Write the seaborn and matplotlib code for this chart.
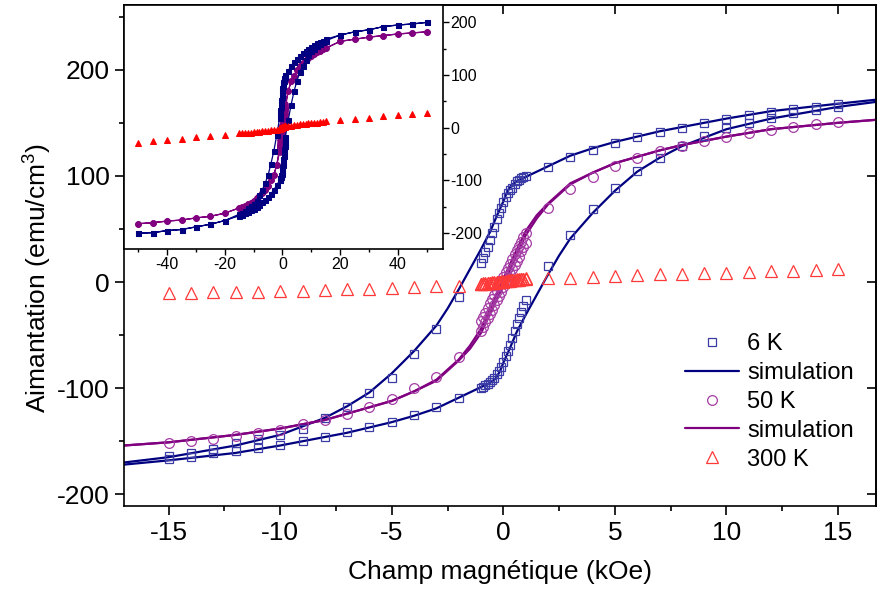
import matplotlib
matplotlib.use("Agg")
import matplotlib.pyplot as plt
import seaborn as sns
from matplotlib.lines import Line2D
from matplotlib.ticker import MultipleLocator, NullLocator

# --- data: field in kOe, magnetisation in emu/cm3 ---
# field values of the measured points, descending branch (+15 -> -15)
h_down = [15, 14, 13, 12, 11, 10, 9, 8, 7, 6, 5, 4, 3, 2,
          1.0, 0.9, 0.8, 0.7, 0.6, 0.5, 0.4, 0.3, 0.2, 0.1, 0.0,
          -0.1, -0.2, -0.3, -0.4, -0.5, -0.6, -0.7, -0.8, -0.9, -1.0,
          -2, -3, -4, -5, -6, -7, -8, -9, -10, -11, -12, -13, -14, -15]
# ascending branch (-15 -> +15)
h_up = [-15, -14, -13, -12, -11, -10, -9, -8, -7, -6, -5, -4, -3, -2,
        -1.0, -0.9, -0.8, -0.7, -0.6, -0.5, -0.4, -0.3, -0.2, -0.1, 0.0,
        0.1, 0.2, 0.3, 0.4, 0.5, 0.6, 0.7, 0.8, 0.9, 1.0,
        2, 3, 4, 5, 6, 7, 8, 9, 10, 11, 12, 13, 14, 15]

m6_down = [168, 165, 163, 160, 157, 154, 150, 145, 141, 137, 131, 124, 118, 108,
           100, 99, 98, 96, 95, 92, 89, 87, 84, 80, 75, 70, 65, 59, 52, 46, 40, 33, 28, 23, 18,
           -14, -44, -68, -90, -105, -118, -128, -138, -144, -148, -152, -157, -161, -164]
m6_up = [-167, -165, -161, -159, -156, -154, -150, -146, -141, -137, -132, -125, -118, -109,
         -100, -99, -97, -96, -94, -92, -90, -87, -84, -80, -75, -70, -65, -59, -53, -46, -40, -34, -28, -23, -17,
         15, 44, 69, 89, 105, 117, 128, 138, 145, 150, 155, 159, 162, 165]

m50_down = [151, 149, 146, 143, 140, 137, 133, 128, 123, 117, 109, 99, 88, 70,
            46, 42, 38, 34, 30, 26, 22, 17, 13, 9, 5, 1, -3, -8, -12, -16, -20, -24, -29, -33, -37,
            -71, -89, -100, -110, -118, -124, -130, -134, -139, -142, -145, -148, -150, -152]
m50_up = [-152, -150, -148, -145, -142, -139, -134, -130, -124, -118, -110, -100, -89, -71,
          -46, -42, -38, -34, -30, -26, -22, -17, -13, -9, -5, -1, 3, 8, 12, 16, 20, 24, 29, 33, 37,
          70, 88, 99, 109, 117, 123, 128, 133, 137, 140, 143, 146, 149, 151]

m300_down = [12, 11.3, 10.7, 10, 9.4, 8.8, 8.2, 7.5, 7.2, 6.6, 6, 5, 4, 3.5,
             3.5, 3.2, 3, 2.7, 2.5, 2.2, 2, 1.7, 1.5, 1.2, 1, 0.7, 0.5, 0.2, 0, -0.3, -0.5, -0.8, -1, -1.3, -1.5,
             -3.5, -4.2, -5, -5.7, -6.3, -7, -7.5, -8, -8.5, -9, -9.4, -9.7, -10, -10.3]
m300_up = [-10.3, -10, -9.7, -9.4, -9, -8.5, -8, -7.5, -7, -6.3, -5.7, -5, -4.2, -3.5,
           -2, -1.7, -1.5, -1.2, -1, -0.7, -0.5, -0.2, 0, 0.3, 0.5, 0.8, 1, 1.3, 1.5, 1.8, 2, 2.3, 2.5, 2.8, 3,
           3.5, 4, 5, 6, 6.6, 7.2, 7.5, 8.2, 8.8, 9.4, 10, 10.7, 11.3, 12]

# simulated curves
h6_sim_down = [16.8, 15, 12, 10, 8, 7, 6, 5, 4, 3, 2, 1, 0.6, 0.35, 0.15, 0,
               -0.3, -0.6, -1, -1.5, -2, -2.5, -3, -4, -5, -6, -7, -8, -10, -12, -15, -17]
m6_sim_down = [172, 168, 161, 154, 146, 142, 137, 132, 126, 119, 109, 99, 95, 91, 84, 76,
               62, 47, 31, 12, -7, -25, -41, -65, -86, -104, -117, -128, -144, -154, -165, -170]
h6_sim_up = [-17, -15, -12, -10, -8, -7, -6, -5, -4, -3, -2, -1, -0.6, -0.35, -0.15, 0,
             0.3, 0.6, 1, 1.5, 2, 2.5, 3, 4, 5, 6, 7, 8, 10, 12, 15, 16.8]
m6_sim_up = [-172, -168, -161, -154, -146, -142, -137, -132, -126, -119, -109, -99, -95, -91, -84, -76,
             -62, -47, -31, -12, 7, 25, 41, 65, 86, 104, 117, 128, 144, 154, 165, 170]

h50_sim_down = [16.8, 15, 12, 10, 8, 7, 6, 5, 4, 3, 2, 1.5, 1, 0.5, 0, -0.5, -1, -1.5, -2,
                -3, -4, -5, -6, -8, -10, -12, -15, -17]
m50_sim_down = [153, 150, 144, 137, 129, 124, 118, 112, 103, 93, 74, 63, 48, 26, 3, -21, -44, -60, -73,
                -92, -103, -112, -118, -130, -138, -144, -151, -154]
h50_sim_up = [-17, -15, -12, -10, -8, -6, -5, -4, -3, -2, -1.5, -1, -0.5, 0, 0.5, 1, 1.5, 2,
              3, 4, 5, 6, 7, 8, 10, 12, 15, 16.8]
m50_sim_up = [-154, -151, -144, -138, -130, -118, -112, -103, -93, -74, -63, -48, -26, -3, 21, 44, 60, 73,
              92, 103, 112, 118, 124, 129, 137, 144, 150, 153]

# extra points only shown in the inset (|H| >= 20 kOe)
h_ins_pos = [20, 25, 30, 35, 40, 45, 50]
h_ins_neg = [-50, -45, -40, -35, -30, -25, -20]
m6_ins_pos = [176, 182, 186, 192, 195, 197, 200]
m6_ins_neg = [-200, -199, -195, -193, -188, -183, -176]
m50_ins_pos = [164, 168, 172, 175, 178, 180, 182]
m50_ins_neg = [-182, -180, -177, -175, -171, -168, -162]
m300_ins_pos = [15, 17, 19, 22, 24, 26, 28]
m300_ins_neg = [-28, -26, -23, -21, -18, -15, -13]

legend_labels = ['6 K', 'simulation', '50 K', 'simulation', '300 K']

# --- colours ---
NAVY = '#000080'
PURPLE = '#800080'
RED = '#ff0000'
SQ_EDGE = '#3c3ca6'
CI_EDGE = '#a43ca4'
TR_EDGE = '#ff3838'

# --- style ---
sns.set_theme(style="ticks")
plt.rcParams['font.family'] = ['Liberation Sans', 'DejaVu Sans']
plt.rcParams['mathtext.fontset'] = 'custom'
plt.rcParams['mathtext.rm'] = 'Liberation Sans'
plt.rcParams['axes.unicode_minus'] = False
for k in ['text.color', 'axes.labelcolor', 'xtick.color', 'ytick.color', 'axes.edgecolor']:
    plt.rcParams[k] = 'black'

fig = plt.figure(figsize=(8.77, 5.90), dpi=100)
ax = fig.add_axes([124 / 877, 1 - 506 / 590, 752 / 877, 501 / 590])


def open_points(axis, x, y, marker, edge, size):
    sns.lineplot(x=x, y=y, ax=axis, sort=False, estimator=None, linestyle='none',
                 marker=marker, markersize=size, markerfacecolor='none',
                 markeredgecolor=edge, markeredgewidth=0.9)


def sim_line(axis, x, y, color):
    sns.lineplot(x=x, y=y, ax=axis, sort=False, estimator=None, color=color, lw=1.6)


# --- main panel ---
sim_line(ax, h6_sim_down, m6_sim_down, NAVY)
sim_line(ax, h6_sim_up, m6_sim_up, NAVY)
sim_line(ax, h50_sim_down, m50_sim_down, PURPLE)
sim_line(ax, h50_sim_up, m50_sim_up, PURPLE)

open_points(ax, h_down, m6_down, 's', SQ_EDGE, 6.2)
open_points(ax, h_up, m6_up, 's', SQ_EDGE, 6.2)
open_points(ax, h_down, m50_down, 'o', CI_EDGE, 7)
open_points(ax, h_up[14:35], m50_up[14:35], 'o', CI_EDGE, 7)
open_points(ax, h_down, m300_down, '^', TR_EDGE, 8.5)
open_points(ax, h_up[14:35], m300_up[14:35], '^', TR_EDGE, 8.5)

ax.set_xlim(-17, 16.7)
ax.set_ylim(-211, 261)
ax.xaxis.set_major_locator(MultipleLocator(5))
ax.xaxis.set_minor_locator(MultipleLocator(2.5))
ax.yaxis.set_major_locator(MultipleLocator(100))
ax.yaxis.set_minor_locator(MultipleLocator(50))
ax.tick_params(which='major', direction='out', length=6.5, width=1.2, labelsize=19, pad=4)
ax.tick_params(which='minor', direction='out', length=3.5, width=1.2)
for s in ax.spines.values():
    s.set_linewidth(1.2)
    s.set_visible(True)

# inward ticks on top and right
secx = ax.secondary_xaxis('top')
secx.xaxis.set_major_locator(MultipleLocator(5))
secx.xaxis.set_minor_locator(NullLocator())
secx.tick_params(direction='in', length=6.5, width=1.2, labeltop=False)
secy = ax.secondary_yaxis('right')
secy.yaxis.set_major_locator(MultipleLocator(100))
secy.yaxis.set_minor_locator(NullLocator())
secy.tick_params(direction='in', length=6.5, width=1.2, labelright=False)

ax.set_xlabel('Champ magnétique (kOe)', fontsize=19, labelpad=11)
ax.set_ylabel('Aimantation (emu/cm$^3$)', fontsize=19)
ax.yaxis.set_label_coords(-0.095, 0.455)

handles = [
    Line2D([], [], ls='none', marker='s', ms=6.2, mfc='none', mec=SQ_EDGE, mew=0.9),
    Line2D([], [], color=NAVY, lw=1.6),
    Line2D([], [], ls='none', marker='o', ms=7, mfc='none', mec=CI_EDGE, mew=0.9),
    Line2D([], [], color=PURPLE, lw=1.6),
    Line2D([], [], ls='none', marker='^', ms=8.5, mfc='none', mec=TR_EDGE, mew=0.9),
]
ax.legend(handles, legend_labels, loc='upper left', bbox_to_anchor=(0.746, 0.345),
          frameon=False, fontsize=17, handlelength=2.3, handletextpad=0.34,
          labelspacing=0.29, borderpad=0, borderaxespad=0)

# --- inset: full field range ---
ins = fig.add_axes([124 / 877, 1 - 249 / 590, 319 / 877, 244 / 590])
ins.set_facecolor('white')

h6_loop = h_ins_pos[::-1] + h_down + h_ins_neg[::-1] + h_ins_neg + h_up + h_ins_pos
m6_loop = m6_ins_pos[::-1] + m6_down + m6_ins_neg[::-1] + m6_ins_neg + m6_up + m6_ins_pos
m50_loop = m50_ins_pos[::-1] + m50_down + m50_ins_neg[::-1] + m50_ins_neg + m50_up + m50_ins_pos
h300_ins = h_ins_pos[::-1] + h_down + h_ins_neg[::-1] + h_up[14:35]
m300_ins = m300_ins_pos[::-1] + m300_down + m300_ins_neg[::-1] + m300_up[14:35]

sns.lineplot(x=h6_loop, y=m50_loop, ax=ins, sort=False, estimator=None, color=PURPLE, lw=0.9,
             marker='o', markersize=4, markeredgecolor=PURPLE, markerfacecolor=PURPLE)
sns.lineplot(x=h6_loop, y=m6_loop, ax=ins, sort=False, estimator=None, color=NAVY, lw=0.9,
             marker='s', markersize=3.6, markeredgecolor=NAVY, markerfacecolor=NAVY)
sns.lineplot(x=h300_ins, y=m300_ins, ax=ins, sort=False, estimator=None, linestyle='none',
             marker='^', markersize=4.6, markeredgecolor=RED, markerfacecolor=RED)

ins.set_xlim(-55, 55.7)
ins.set_ylim(-230, 233)
ins.xaxis.set_major_locator(MultipleLocator(20))
ins.xaxis.set_minor_locator(MultipleLocator(10))
ins.yaxis.set_major_locator(MultipleLocator(100))
ins.yaxis.set_minor_locator(MultipleLocator(50))
ins.yaxis.tick_right()
ins.tick_params(which='major', direction='out', length=4, width=1, labelsize=11.5, pad=1.5)
ins.tick_params(which='minor', direction='out', length=2.5, width=1)
ins.set_xlabel('')
ins.set_ylabel('')
for s in ins.spines.values():
    s.set_linewidth(1.2)
    s.set_visible(True)

fig.savefig('out.png', dpi=100)
